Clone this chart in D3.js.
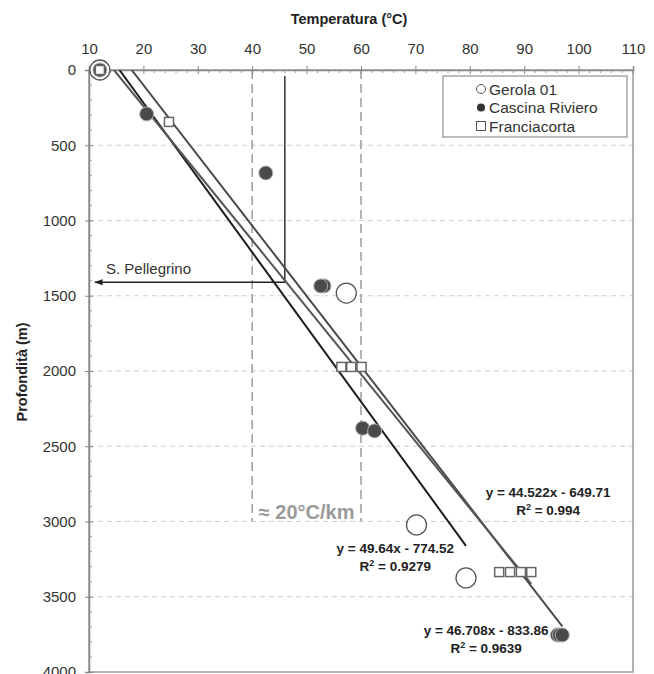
<!DOCTYPE html>
<html>
<head>
<meta charset="utf-8">
<script src="https://cdn.jsdelivr.net/npm/d3@7"></script>
<style>
  body { margin: 0; background: #fff; }
  svg { font-family: "Liberation Sans", Arial, sans-serif; display: block; }
</style>
</head>
<body>
<svg id="chart" width="654" height="674"></svg>
<script>
// Gerola 01 (open circles)
var gerolaT = [12, 57.3, 70.2, 79.3];
var gerolaZ = [0, 1482, 3023, 3375];
// Cascina Riviero (filled circles)
var cascinaT = [12, 20.6, 42.5, 53.2, 52.6, 60.3, 62.5, 96.1, 96.5, 97.0];
var cascinaZ = [0, 292, 684, 1435, 1435, 2380, 2398, 3754, 3754, 3754];
// Franciacorta (squares)
var franciaT = [12, 24.7, 56.4, 58.2, 60.1, 85.4, 87.4, 89.4, 91.3];
var franciaZ = [0, 345, 1973, 1973, 1973, 3336, 3336, 3336, 3336];

// trendlines: slope, intercept, label text and where the label sits (T, depth)
var trendSlope = [49.64, 46.708, 44.522];
var trendIntercept = [-774.52, -833.86, -649.71];
var trendEq = ["y = 49.64x - 774.52", "y = 46.708x - 833.86", "y = 44.522x - 649.71"];
var trendR2 = ["0.9279", "0.9639", "0.994"];
var trendLabelAt = [[66.3, 3209], [83.0, 3754], [94.4, 2837]];

var xTicks = [10, 20, 30, 40, 50, 60, 70, 80, 90, 100, 110];
var yTicks = [0, 500, 1000, 1500, 2000, 2500, 3000, 3500, 4000];
var gradientBand = [40, 60];      // ≈ 20°C/km guide
var pellegrinoT = 46, pellegrinoTop = 40, pellegrinoZ = 1410, pellegrinoEnd = 11.1;

var svg = d3.select('#chart');
var x = d3.scaleLinear().domain([10, 110]).range([89, 633]);
var y = d3.scaleLinear().domain([0, 4000]).range([70, 672]);

svg.append('defs').append('clipPath').attr('id', 'plot')
  .append('rect').attr('x', x(10)).attr('y', y(0)).attr('width', x(110) - x(10)).attr('height', y(4000) - y(0));
svg.select('defs').append('marker').attr('id', 'arr').attr('viewBox', '0 0 10 10')
  .attr('refX', 9).attr('refY', 5).attr('markerWidth', 6).attr('markerHeight', 6).attr('orient', 'auto-start-reverse')
  .append('path').attr('d', 'M0,1.5L10,5L0,8.5Z').attr('fill', '#222');

// horizontal dashed grid
svg.append('g').selectAll('line').data(yTicks.filter(function (d) { return d > 0 && d < 4000; }))
  .enter().append('line')
  .attr('x1', x(10)).attr('x2', x(110)).attr('y1', function (d) { return y(d); }).attr('y2', function (d) { return y(d); })
  .attr('stroke', '#d0d0d0').attr('stroke-width', 1.2).attr('stroke-dasharray', '5,4');

// gradient guide lines
svg.append('g').selectAll('line').data(gradientBand).enter().append('line')
  .attr('x1', function (d) { return x(d); }).attr('x2', function (d) { return x(d); })
  .attr('y1', y(0)).attr('y2', y(3000))
  .attr('stroke', '#a0a0a0').attr('stroke-width', 1.6).attr('stroke-dasharray', '9,5');
svg.append('text').attr('x', (x(gradientBand[0]) + x(gradientBand[1])) / 2).attr('y', y(3000) - 3)
  .attr('text-anchor', 'middle').attr('font-size', 20).attr('font-weight', 'bold').attr('fill', '#9a9a9a')
  .text('≈ 20°C/km');

// frame
svg.append('rect').attr('x', x(10)).attr('y', y(0)).attr('width', x(110) - x(10)).attr('height', y(4000) - y(0))
  .attr('fill', 'none').attr('stroke', '#9a9a9a').attr('stroke-width', 1.5);

// top axis
var xAxis = d3.axisTop(x).tickValues(xTicks).tickSize(4).tickPadding(12);
var gx = svg.append('g').attr('transform', 'translate(0,' + y(0) + ')').call(xAxis);
gx.select('.domain').attr('stroke', '#888').attr('stroke-width', 1.5);
gx.selectAll('.tick line').attr('stroke', '#888').attr('y2', -4).attr('y1', 4);
gx.selectAll('.tick text').attr('font-size', 15).attr('fill', '#333').attr('font-family', 'Liberation Sans, Arial');
svg.append('g').selectAll('line').data(d3.range(12, 110, 2).filter(function (d) { return d % 10 !== 0; }))
  .enter().append('line').attr('x1', function (d) { return x(d); }).attr('x2', function (d) { return x(d); })
  .attr('y1', y(0)).attr('y2', y(0) + 3).attr('stroke', '#999');

// left axis
var yAxis = d3.axisLeft(y).tickValues(yTicks).tickFormat(d3.format('d')).tickSize(4).tickPadding(9);
var gy = svg.append('g').attr('transform', 'translate(' + x(10) + ',0)').call(yAxis);
gy.select('.domain').attr('stroke', '#888').attr('stroke-width', 1.5);
gy.selectAll('.tick line').attr('stroke', '#888').attr('x1', 4);
gy.selectAll('.tick text').attr('font-size', 15).attr('fill', '#333').attr('font-family', 'Liberation Sans, Arial');
svg.append('g').selectAll('line').data(d3.range(100, 4000, 100).filter(function (d) { return d % 500 !== 0; }))
  .enter().append('line').attr('y1', function (d) { return y(d); }).attr('y2', function (d) { return y(d); })
  .attr('x1', x(10)).attr('x2', x(10) + 3).attr('stroke', '#999');

// axis titles
svg.append('text').attr('x', 349).attr('y', 24).attr('text-anchor', 'middle')
  .attr('font-size', 14.5).attr('font-weight', 'bold').attr('fill', '#222').text('Temperatura (°C)');
svg.append('text').attr('transform', 'translate(27,372) rotate(-90)').attr('text-anchor', 'middle')
  .attr('font-size', 14.5).attr('font-weight', 'bold').attr('fill', '#222').text('Profondità (m)');

// S. Pellegrino marker
svg.append('path')
  .attr('d', 'M' + x(pellegrinoT) + ',' + y(pellegrinoTop) + 'V' + y(pellegrinoZ) + 'H' + x(pellegrinoEnd))
  .attr('fill', 'none').attr('stroke', '#222').attr('stroke-width', 1.4).attr('marker-end', 'url(#arr)');
svg.append('text').attr('x', 106).attr('y', y(pellegrinoZ) - 8)
  .attr('font-size', 15).attr('fill', '#333').text('S. Pellegrino');

// trendlines
var seriesT = [gerolaT, cascinaT, franciaT];
var trendColor = ['#1e1e1e', '#4a4a4a', '#555'];
var gl = svg.append('g').attr('clip-path', 'url(#plot)');
trendSlope.forEach(function (m, i) {
  var t0 = Math.max(d3.min(seriesT[i]), -trendIntercept[i] / m);
  var t1 = d3.max(seriesT[i]);
  gl.append('line')
    .attr('x1', x(t0)).attr('y1', y(m * t0 + trendIntercept[i]))
    .attr('x2', x(t1)).attr('y2', y(m * t1 + trendIntercept[i]))
    .attr('stroke', trendColor[i]).attr('stroke-width', 2);
});

// points
var gp = svg.append('g');
gp.selectAll('circle.ger').data(d3.zip(gerolaT, gerolaZ)).enter().append('circle')
  .attr('cx', function (d) { return x(d[0]); }).attr('cy', function (d) { return y(d[1]); })
  .attr('r', 10).attr('fill', '#fff').attr('stroke', '#555').attr('stroke-width', 1.3);
gp.selectAll('circle.cas').data(d3.zip(cascinaT, cascinaZ)).enter().append('circle')
  .attr('cx', function (d) { return x(d[0]); }).attr('cy', function (d) { return y(d[1]); })
  .attr('r', 7).attr('fill', '#4a4a4a').attr('stroke', '#b0b0b0').attr('stroke-width', 1);
gp.selectAll('rect.fra').data(d3.zip(franciaT, franciaZ)).enter().append('rect')
  .attr('x', function (d) { return x(d[0]) - 4.5; }).attr('y', function (d) { return y(d[1]) - 4.5; })
  .attr('width', 9).attr('height', 9).attr('fill', '#fff').attr('stroke', '#666').attr('stroke-width', 1.5);

// trendline labels
trendEq.forEach(function (eq, i) {
  var px = x(trendLabelAt[i][0]), py = y(trendLabelAt[i][1]);
  var t = svg.append('text').attr('x', px).attr('y', py).attr('text-anchor', 'middle')
    .attr('font-size', 13.5).attr('font-weight', 'bold').attr('fill', '#222');
  t.append('tspan').attr('x', px).attr('dy', 0).text(eq);
  var r = t.append('tspan').attr('x', px).attr('dy', 18).text('R');
  r.append('tspan').attr('font-size', 9).attr('dy', -5).text('2');
  r.append('tspan').attr('dy', 5).text(' = ' + trendR2[i]);
});

// legend
var lg = svg.append('g').attr('transform', 'translate(443,76)');
lg.append('rect').attr('width', 184).attr('height', 61).attr('fill', '#fff').attr('stroke', '#999').attr('stroke-width', 1.3);
var legendNames = ['Gerola 01', 'Cascina Riviero', 'Franciacorta'];
legendNames.forEach(function (n, i) {
  var cy = 13 + i * 18.5;
  if (i === 0) lg.append('circle').attr('cx', 38).attr('cy', cy).attr('r', 4.5).attr('fill', '#fff').attr('stroke', '#555');
  if (i === 1) lg.append('circle').attr('cx', 38).attr('cy', cy).attr('r', 4).attr('fill', '#333');
  if (i === 2) lg.append('rect').attr('x', 33.5).attr('y', cy - 4.5).attr('width', 9).attr('height', 9).attr('fill', '#fff').attr('stroke', '#555');
  lg.append('text').attr('x', 46).attr('y', cy + 5.5).attr('font-size', 15.5).attr('fill', '#333').text(n);
});
</script>
</body>
</html>
